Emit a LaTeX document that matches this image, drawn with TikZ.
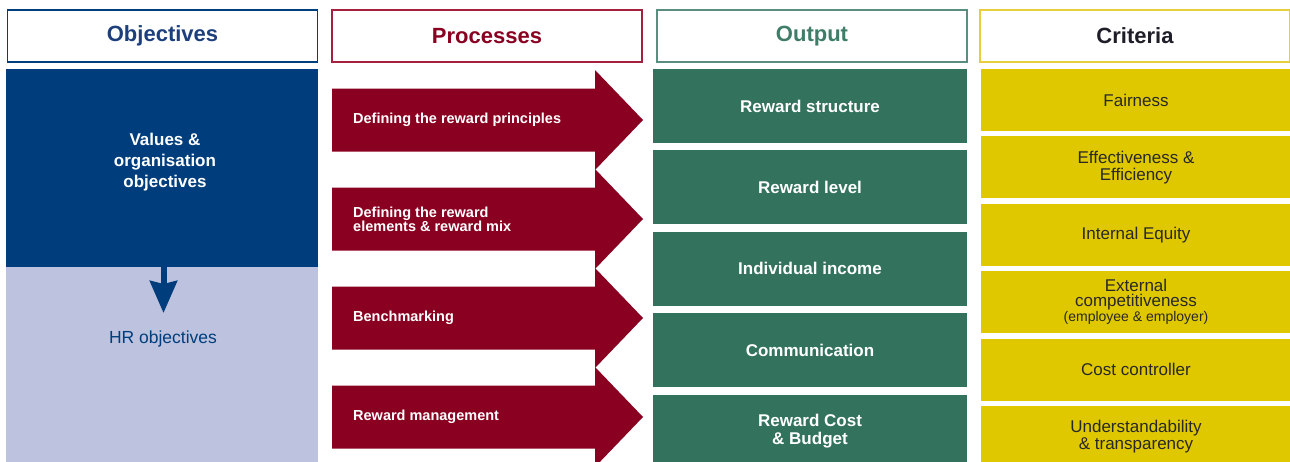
\documentclass[tikz,border=0pt]{standalone}
\usepackage{fontspec}
\setmainfont{Liberation Sans}
\usepackage{tikz}
\usetikzlibrary{positioning}
\usetikzlibrary{arrows.meta}
\definecolor{objblue}{RGB}{0,61,124}
\definecolor{objlight}{RGB}{189,195,222}
\definecolor{objhead}{RGB}{29,63,124}
\definecolor{procred}{RGB}{138,0,33}
\definecolor{procborder}{RGB}{163,32,63}
\definecolor{outgreen}{RGB}{51,115,93}
\definecolor{outhead}{RGB}{63,125,104}
\definecolor{outborder}{RGB}{90,143,127}
\definecolor{crityellow}{RGB}{224,200,0}
\definecolor{critborder}{RGB}{230,207,58}
\definecolor{crithead}{RGB}{30,30,40}
\definecolor{crittext}{RGB}{40,40,40}
\tikzstyle{hdr} = [rectangle,draw,line width=1.5pt,fill=white,minimum width=310pt,minimum height=52pt,inner sep=0pt,font=\fontsize{22}{26}\selectfont\bfseries]
\tikzstyle{objblock} = [rectangle,minimum width=312pt,inner sep=0pt]
\tikzstyle{outbox} = [rectangle,fill=outgreen,text=white,align=center,minimum width=314pt,minimum height=74pt,inner sep=0pt,font=\fontsize{17}{18}\selectfont\bfseries]
\tikzstyle{critbox} = [rectangle,fill=crityellow,text=crittext,align=center,minimum width=310pt,minimum height=62pt,inner sep=0pt,font=\fontsize{17}{17}\selectfont]
\tikzstyle{proctext} = [anchor=west,text=white,align=left,inner sep=0pt,font=\fontsize{14.5}{14}\selectfont\bfseries]

\begin{document}
\begin{tikzpicture}
	[x=1pt,y=-1pt,node distance=7pt]
	\useasboundingbox (0,0) rectangle (1290,461);
	\fill[white] (0,0) rectangle (1290,461);
	\clip (0,0) rectangle (1290,461);
	\node (hobj) [hdr,draw=objblue,text=objhead] at (162.5,36) {Objectives};
	\node (hproc) [hdr,draw=procborder,text=procred] at (487,36) {Processes};
	\node (hout) [hdr,draw=outborder,text=outhead] at (812,36) {Output};
	\node (hcrit) [hdr,draw=critborder,text=crithead] at (1135,36) {Criteria};
	\node (objA) [objblock,fill=objblue,minimum height=198pt] at (162,168) {};
	\node (objB) [objblock,fill=objlight,minimum height=204pt] at (162,369) {};
	\node (vals) [text=white,align=center,font=\fontsize{17}{21}\selectfont\bfseries] at (165,162) {Values \&\\organisation\\objectives};
	\node (hr) [text=objblue,font=\fontsize{17.5}{21}\selectfont] at (163,339) {HR objectives};
	\coordinate (hrtip) at (163.5,313);
	\draw[objblue,line width=6pt,-{Stealth[length=32pt,width=27pt,inset=3pt]}] (objA.south -| hrtip) -- (hrtip);
	\foreach \yy/\nm/\txt in {120/p1/{Defining the reward principles},219/p2/{Defining the reward\\elements \& reward mix},318/p3/{Benchmarking},417/p4/{Reward management}}{
		\fill[procred] (332,\yy-31.5) -- (595,\yy-31.5) -- (595,\yy-50) -- (643,\yy) -- (595,\yy+50) -- (595,\yy+31.5) -- (332,\yy+31.5) -- cycle;
		\node (\nm) [proctext] at (353,\yy) {\txt};
	}
	\node (o1) [outbox] at (810,106) {Reward structure};
	\node (o2) [outbox,below=of o1] {Reward level};
	\node (o3) [outbox,below=of o2] {Individual income};
	\node (o4) [outbox,below=of o3] {Communication};
	\node (o5) [outbox,below=of o4] {Reward Cost\\\& Budget};
	\node (c1) [critbox] at (1136,100) {Fairness};
	\node (c2) [critbox,below=5pt of c1] {Effectiveness \&\\Efficiency};
	\node (c3) [critbox,below=5pt of c2] {Internal Equity};
	\node (c4) [critbox,below=5pt of c3,font=\fontsize{17}{15}\selectfont] {External\\competitiveness\\{\fontsize{14}{16}\selectfont(employee \& employer)}};
	\node (c5) [critbox,below=5pt of c4] {Cost controller};
	\node (c6) [critbox,below=5pt of c5] {Understandability\\\& transparency};
\end{tikzpicture}
\end{document}
